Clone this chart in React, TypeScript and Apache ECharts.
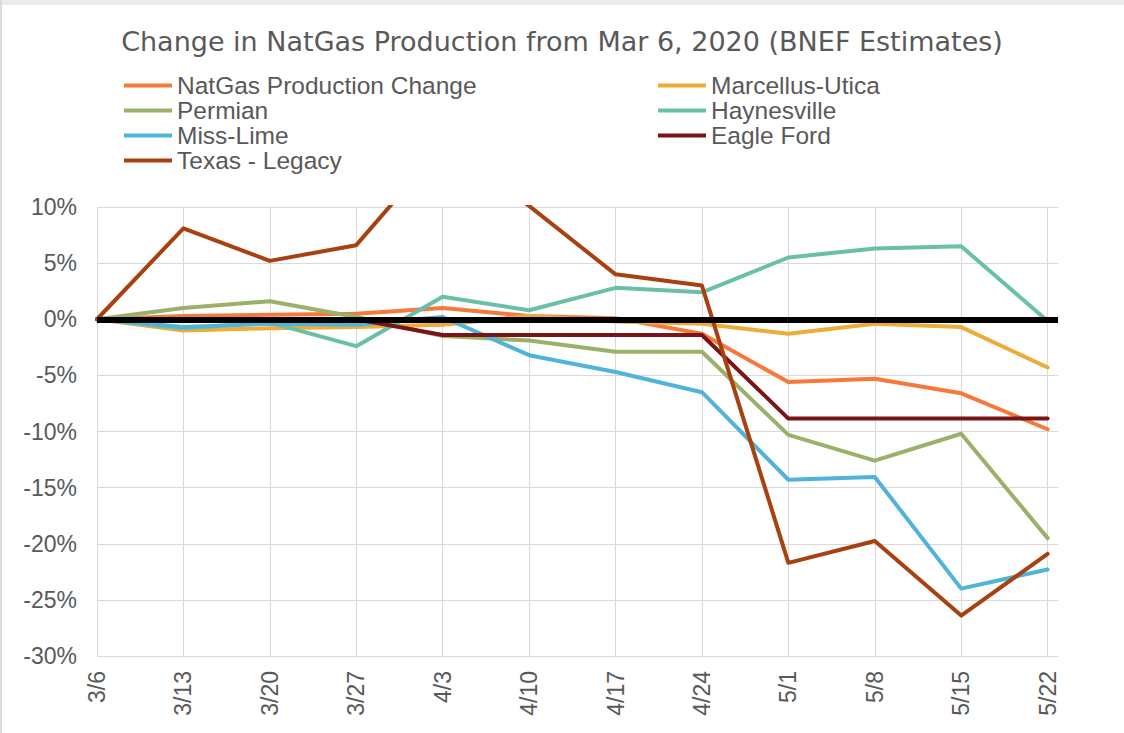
import React, { useEffect, useRef } from "react";
import * as echarts from "echarts";

const categories = ["3/6", "3/13", "3/20", "3/27", "4/3", "4/10", "4/17", "4/24", "5/1", "5/8", "5/15", "5/22"];
const yTicks = [-30, -25, -20, -15, -10, -5, 0, 5, 10];

const natGasChange = [0, 0.3, 0.4, 0.5, 1.0, 0.3, 0.1, -1.3, -5.6, -5.3, -6.6, -9.8];
const marcellusUtica = [0, -1.0, -0.8, -0.7, -0.5, 0.3, -0.2, -0.4, -1.3, -0.4, -0.7, -4.3];
const permian = [0, 1.0, 1.6, 0.2, -1.5, -1.9, -2.9, -2.9, -10.3, -12.6, -10.2, -19.5];
const haynesville = [0, -0.8, -0.3, -2.4, 2.0, 0.8, 2.8, 2.4, 5.5, 6.3, 6.5, -0.15];
const missLime = [0, -0.7, -0.4, -0.5, 0.2, -3.2, -4.7, -6.5, -14.3, -14.05, -24.0, -22.3];
const eagleFord = [0, 0, 0, 0, -1.4, -1.4, -1.4, -1.4, -8.85, -8.85, -8.85, -8.85];
const texasLegacy = [0, 8.1, 5.2, 6.6, 15.5, 10.1, 4.0, 3.0, -21.7, -19.75, -26.4, -20.9];

const seriesNames = [
  "NatGas Production Change",
  "Marcellus-Utica",
  "Permian",
  "Haynesville",
  "Miss-Lime",
  "Eagle Ford",
  "Texas - Legacy",
];
const seriesValues = [natGasChange, marcellusUtica, permian, haynesville, missLime, eagleFord, texasLegacy];
const seriesColors = ["#F7793A", "#EDAB37", "#9BB169", "#6ABFA9", "#4FB3DA", "#7A1416", "#A8400F"];

const leftLegend = [seriesNames[0], seriesNames[2], seriesNames[4], seriesNames[6]];
const rightLegend = [seriesNames[1], seriesNames[3], seriesNames[5]];

export default function App() {
  const ref = useRef<HTMLDivElement>(null);

  useEffect(() => {
    const chart = echarts.init(ref.current!, null, { renderer: "svg" });
    const textColor = "#595959";
    const legendText = {
      fontFamily: "Liberation Sans, Arial, sans-serif",
      fontSize: 24.5,
      color: textColor,
      lineHeight: 25,
    };
    const lines = seriesNames.map((name, k) => ({
      name,
      type: "line",
      data: seriesValues[k].map((v, i) => [i, v]),
      symbol: "none",
      clip: true,
      lineStyle: { color: seriesColors[k], width: 4, join: "round", cap: "round" },
      itemStyle: { color: seriesColors[k] },
      emphasis: { disabled: true },
    }));

    chart.setOption({
      animation: false,
      backgroundColor: "#ffffff",
      title: {
        text: "Change in NatGas Production from Mar 6, 2020 (BNEF Estimates)",
        left: "center",
        top: 23,
        textStyle: {
          fontFamily: "DejaVu Sans, sans-serif",
          fontSize: 27,
          fontWeight: "normal",
          color: textColor,
        },
      },
      graphic: [
        { type: "rect", shape: { x: 0, y: 0, width: 1124, height: 5 }, style: { fill: "#ebebeb" } },
        { type: "rect", shape: { x: 0, y: 0, width: 2, height: 733 }, style: { fill: "#dcdcdc" } },
      ],
      legend: [
        {
          data: leftLegend,
          orient: "vertical",
          left: 124,
          top: 73,
          itemWidth: 48,
          itemHeight: 4,
          itemGap: 0,
          icon: "rect",
          padding: 0,
          textStyle: legendText,
          selectedMode: false,
        },
        {
          data: rightLegend,
          orient: "vertical",
          left: 658,
          top: 73,
          itemWidth: 48,
          itemHeight: 4,
          itemGap: 0,
          icon: "rect",
          padding: 0,
          textStyle: legendText,
          selectedMode: false,
        },
      ],
      grid: { left: 97, right: 66, top: 207, bottom: 77, containLabel: false },
      xAxis: {
        type: "value",
        min: 0,
        max: 11.12,
        interval: 1,
        axisLine: { show: false, onZero: false },
        axisTick: { show: false },
        splitLine: { show: true, showMaxLine: false, lineStyle: { color: "#d9d9d9", width: 1 } },
        axisLabel: {
          rotate: 90,
          margin: 15,
          fontFamily: "Liberation Sans, Arial, sans-serif",
          fontSize: 23,
          color: textColor,
          showMaxLabel: false,
          formatter: (v: number) => (Number.isInteger(v) && categories[v] !== undefined ? categories[v] : ""),
        },
      },
      yAxis: {
        type: "value",
        min: yTicks[0],
        max: yTicks[yTicks.length - 1],
        interval: 5,
        axisLine: { show: false },
        axisTick: { show: false },
        splitLine: { show: true, lineStyle: { color: "#d9d9d9", width: 1 } },
        axisLabel: {
          margin: 20,
          fontFamily: "Liberation Sans, Arial, sans-serif",
          fontSize: 23,
          color: textColor,
          formatter: (v: number) => `${v}%`,
        },
      },
      series: [
        {
          name: "zero",
          type: "line",
          data: [],
          symbol: "none",
          silent: true,
          markLine: {
            silent: true,
            symbol: ["none", "none"],
            label: { show: false },
            lineStyle: { color: "#000000", width: 6, type: "solid" },
            emphasis: { disabled: true },
            data: [{ yAxis: 0 }],
          },
        },
        ...lines,
      ],
    });
    return () => chart.dispose();
  }, []);

  return (
    <div
      ref={ref}
      style={{ position: "fixed", left: 0, top: 0, width: 1124, height: 733, background: "#ffffff" }}
    />
  );
}
